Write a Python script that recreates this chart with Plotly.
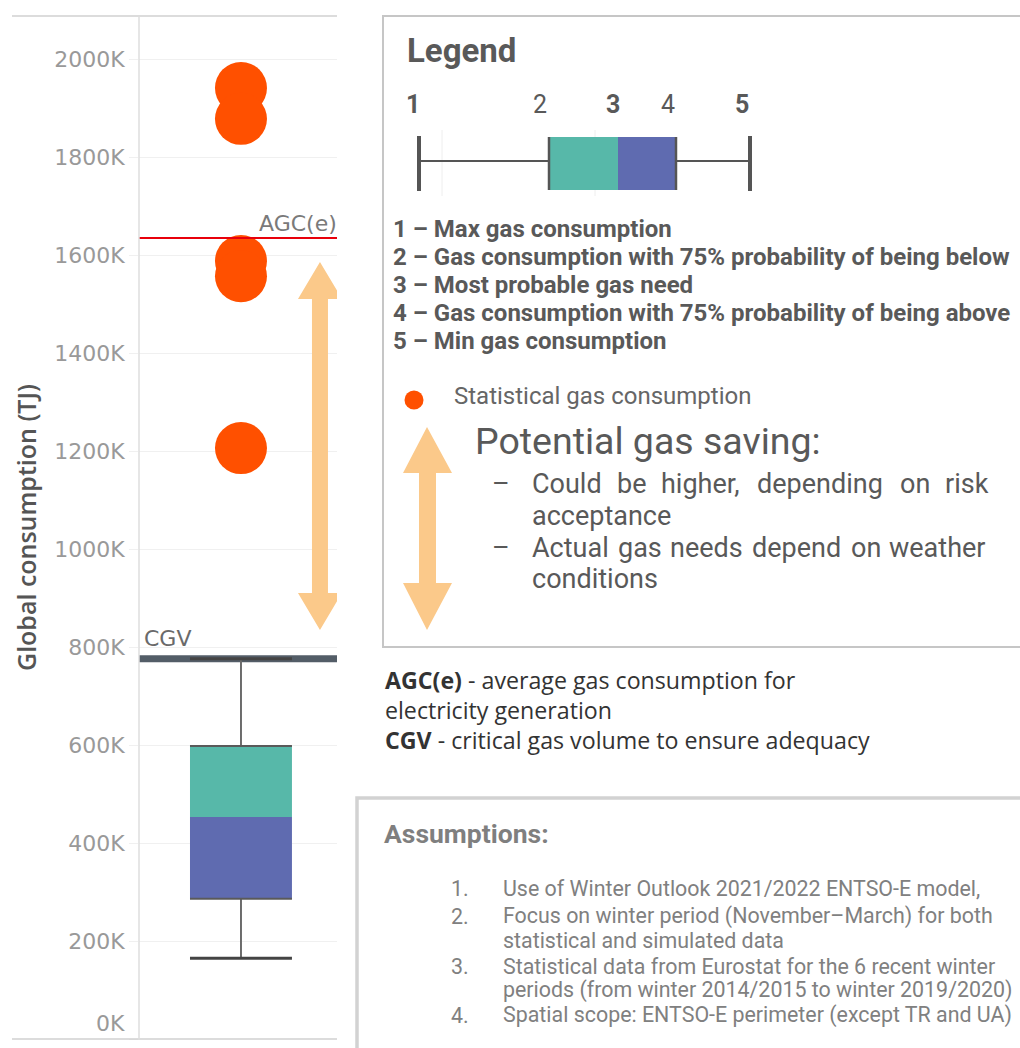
import plotly.graph_objects as go

# ---------------- data (values in thousand TJ) ----------------
Y_TICKS = [0, 200, 400, 600, 800, 1000, 1200, 1400, 1600, 1800, 2000]
Y_TICK_LABELS = ["0K", "200K", "400K", "600K", "800K", "1000K", "1200K",
                 "1400K", "1600K", "1800K", "2000K"]
STAT_POINTS = [1941, 1878, 1588, 1557, 1206]      # statistical gas consumption
BOX_MIN = [165]
BOX_Q1 = [286]
BOX_MEDIAN = [453]
BOX_Q3 = [598]
BOX_MAX = [776]
AGC_E = 1635            # average gas consumption for electricity generation
CGV = 776               # critical gas volume
SAVING_RANGE = [835, 1586]   # potential gas saving arrow (bottom, top)
Y_RANGE = [0, 2090]

# ---------------- figure geometry / style ----------------
W, H = 1020, 1048
PLOT_L, PLOT_R, PLOT_T, PLOT_B = 139, 337, 15, 1039
PX_PER_UNIT = (PLOT_B - PLOT_T) / (Y_RANGE[1] - Y_RANGE[0])
BOX_X, BOX_W = 0.515, 0.515
ARROW_X = 0.914

ORANGE = "#FF5000"
TEAL = "#57B8A9"
BLUE = "#5F6BB0"
ARROW_C = "#FBC98A"
TXT = "#595959"
AXFONT = "DejaVu Sans"


def P(x, y):
    return x / W, 1 - y / H


fig = go.Figure()

# box body as two stacked segments
fig.add_trace(go.Bar(x=[BOX_X], y=[BOX_MEDIAN[0] - BOX_Q1[0]], base=BOX_Q1, width=BOX_W,
                     marker=dict(color=BLUE, line=dict(width=0)), hoverinfo="skip"))
fig.add_trace(go.Bar(x=[BOX_X], y=[BOX_Q3[0] - BOX_MEDIAN[0]], base=BOX_MEDIAN, width=BOX_W,
                     marker=dict(color=TEAL, line=dict(width=0)), hoverinfo="skip"))
# whiskers
fig.add_trace(go.Scatter(x=[BOX_X, BOX_X, None, BOX_X, BOX_X],
                         y=[BOX_Q3[0], BOX_MAX[0], None, BOX_MIN[0], BOX_Q1[0]],
                         mode="lines", line=dict(color="#6b6b6b", width=2), hoverinfo="skip"))
# box edges
xl, xr = BOX_X - BOX_W / 2, BOX_X + BOX_W / 2
fig.add_trace(go.Scatter(x=[xl, xr, None, xl, xr],
                         y=[BOX_Q3[0], BOX_Q3[0], None, BOX_Q1[0], BOX_Q1[0]],
                         mode="lines", line=dict(color="#5a5a5a", width=2), hoverinfo="skip"))
# caps
fig.add_trace(go.Scatter(x=[xl, xr, None, xl, xr],
                         y=[BOX_MAX[0], BOX_MAX[0], None, BOX_MIN[0], BOX_MIN[0]],
                         mode="lines", line=dict(color="#444444", width=3), hoverinfo="skip"))
# statistical points
fig.add_trace(go.Scatter(x=[BOX_X] * len(STAT_POINTS), y=STAT_POINTS, mode="markers",
                         marker=dict(color=ORANGE, size=52, line=dict(width=0)),
                         hoverinfo="y"))

shapes = []
# CGV thick line
shapes.append(dict(type="line", xref="x domain", yref="y", x0=0, x1=1, y0=CGV, y1=CGV,
                   line=dict(color="#535d67", width=7), layer="below"))
# AGC(e) line
shapes.append(dict(type="line", xref="x domain", yref="y", x0=0, x1=1, y0=AGC_E, y1=AGC_E,
                   line=dict(color="#E8000B", width=2), layer="above"))
# big saving arrow (x in pixels around ARROW_X, y in data units)
hh = 37 / PX_PER_UNIT
lo, hi = SAVING_RANGE
hw, sw = 22, 8
path = (f"M 0,{hi} L {hw},{hi - hh} L {sw},{hi - hh} L {sw},{lo + hh} L {hw},{lo + hh} "
        f"L 0,{lo} L {-hw},{lo + hh} L {-sw},{lo + hh} L {-sw},{hi - hh} L {-hw},{hi - hh} Z")
shapes.append(dict(type="path", xref="x", yref="y", xsizemode="pixel", xanchor=ARROW_X,
                   path=path, fillcolor=ARROW_C, line=dict(width=0), layer="above"))

# chart frame lines
for yy in (PLOT_T + 1, PLOT_B):
    x0, y0 = P(12, yy)
    x1, _ = P(PLOT_R, yy)
    shapes.append(dict(type="line", xref="paper", yref="paper", x0=x0, x1=x1, y0=y0, y1=y0,
                       line=dict(color="#d0d0d0", width=1.5)))
x0, y0 = P(PLOT_L, PLOT_T + 1)
_, y1 = P(PLOT_L, PLOT_B)
shapes.append(dict(type="line", xref="paper", yref="paper", x0=x0, x1=x0, y0=y0, y1=y1,
                   line=dict(color="#dedede", width=1.5)))

# legend box
a = P(383, 16); b = P(1040, 647)
shapes.append(dict(type="rect", xref="paper", yref="paper", x0=a[0], y0=a[1], x1=b[0], y1=b[1],
                   line=dict(color="#c6c6c6", width=2), fillcolor="rgba(0,0,0,0)"))
# assumptions box
a = P(357, 798); b = P(1040, 1070)
shapes.append(dict(type="rect", xref="paper", yref="paper", x0=a[0], y0=a[1], x1=b[0], y1=b[1],
                   line=dict(color="#d2d2d2", width=3.5), fillcolor="rgba(0,0,0,0)"))


def pline(x0p, y0p, x1p, y1p, color, width):
    a = P(x0p, y0p); b = P(x1p, y1p)
    return dict(type="line", xref="paper", yref="paper", x0=a[0], y0=a[1], x1=b[0], y1=b[1],
                line=dict(color=color, width=width))


def prect(x0p, y0p, x1p, y1p, color):
    a = P(x0p, y0p); b = P(x1p, y1p)
    return dict(type="rect", xref="paper", yref="paper", x0=a[0], y0=a[1], x1=b[0], y1=b[1],
                fillcolor=color, line=dict(width=0))


# legend mini box plot
shapes.append(pline(442, 130, 442, 196, "#eeeeee", 1))
shapes.append(pline(595, 130, 595, 196, "#eeeeee", 1))
shapes.append(prect(549, 137, 618, 190, TEAL))
shapes.append(prect(618, 137, 676, 190, BLUE))
shapes.append(pline(419, 161, 549, 161, "#555555", 2))
shapes.append(pline(676, 161, 750, 161, "#555555", 2))
shapes.append(pline(549, 137, 549, 190, "#555555", 2.5))
shapes.append(pline(676, 137, 676, 190, "#555555", 2.5))
shapes.append(pline(419, 136, 419, 191, "#555555", 4))
shapes.append(pline(750, 136, 750, 191, "#555555", 4))
# legend dot
a = P(404.5, 390.5); b = P(423.5, 409.5)
shapes.append(dict(type="circle", xref="paper", yref="paper", x0=a[0], y0=a[1], x1=b[0], y1=b[1],
                   fillcolor=ORANGE, line=dict(width=0)))
# legend arrow
pts = [(427, 427), (452, 473), (436, 473), (436, 583), (452, 583), (427, 630),
       (403, 583), (419, 583), (419, 473), (403, 473)]
pp = [P(*q) for q in pts]
lpath = "M " + " L ".join(f"{x},{y}" for x, y in pp) + " Z"
shapes.append(dict(type="path", xref="paper", yref="paper", path=lpath,
                   fillcolor=ARROW_C, line=dict(width=0)))

annotations = []


def text(x, y, s, size, color=TXT, family="Roboto", anchor="left", weight=None, angle=0):
    px, py = P(x, y)
    f = dict(size=size, color=color, family=family)
    if weight:
        f["weight"] = weight
    annotations.append(dict(x=px, y=py, xref="paper", yref="paper", text=s, showarrow=False,
                            xanchor=anchor, yanchor="middle", font=f, textangle=angle,
                            align="left"))


# approximate Roboto advance widths (em) for justified lines
CW = dict(a=.543, b=.561, c=.523, d=.564, e=.530, g=.561, h=.551, i=.243, k=.507, l=.243,
          n=.552, o=.570, p=.561, r=.338, s=.516, t=.327, u=.551, w=.751, C=.652, A=.653)
CW[","] = .196


def justified(line, x0, x1, y, size, scale):
    words = line.split(" ")
    ws = [sum(CW.get(ch, .55) for ch in w) * size * scale for w in words]
    gap = (x1 - x0 - sum(ws)) / (len(words) - 1)
    pos = x0
    for i, w in enumerate(words):
        text(pos, y, w, size)
        pos += ws[i] + gap


# axis title
text(26, 528, "Global consumption (TJ)", 25, color="#555555", family="Open Sans",
     anchor="center", weight=600, angle=-90)
# 0K label (Tableau lifts the bottom label)
annotations.append(dict(x=(PLOT_L - 12) / W, y=0, xref="paper", yref="y", text=Y_TICK_LABELS[0],
                        showarrow=False, xanchor="right", yanchor="middle", yshift=16,
                        font=dict(size=22, color="#999999", family=AXFONT)))
# line labels
annotations.append(dict(x=1, y=AGC_E, xref="x domain", yref="y", text="AGC(e)", showarrow=False,
                        xanchor="right", yanchor="bottom", yshift=0, xshift=2,
                        font=dict(size=22, color="#7a7a7a", family=AXFONT)))
annotations.append(dict(x=0, y=CGV, xref="x domain", yref="y", text="CGV", showarrow=False,
                        xanchor="left", yanchor="bottom", xshift=3, yshift=6,
                        font=dict(size=22, color="#6a6a6a", family=AXFONT)))

# legend
text(405, 50, "<b>Legend</b>", 33)
for xx, s in [(413, "<b>1</b>"), (540, "2"), (613, "<b>3</b>"), (668, "4"), (742, "<b>5</b>")]:
    text(xx, 105, s, 25, anchor="center")
LEGEND_ITEMS = ["1 – Max gas consumption",
                "2 – Gas consumption with 75% probability of being below",
                "3 – Most probable gas need",
                "4 – Gas consumption with 75% probability of being above",
                "5 – Min gas consumption"]
for i, s in enumerate(LEGEND_ITEMS):
    text(391, 229 + 28 * i, f"<b>{s}</b>", 24)
text(452, 396, "Statistical gas consumption", 24, color="#666666")
text(473, 441, "Potential gas saving:", 37.5)
text(490, 484, "–", 27)
text(490, 548, "–", 27)
justified("Could be higher, depending on risk", 530, 987, 484, 27, 1.02)
text(530, 516, "acceptance", 27)
justified("Actual gas needs depend on weather", 530, 987, 548, 27, 1.04)
text(530, 579, "conditions", 27)

# definitions
text(383, 710, "<b>AGC(e)</b> - average gas consumption for<br>electricity generation<br>"
     "<b>CGV</b> - critical gas volume to ensure adequacy", 23.2, color="#333333",
     family="Open Sans")

# assumptions
text(382, 833, "<b>Assumptions:</b>", 26.5, color="#7f7f7f")
ASSUMPTIONS = [("1.", "Use of Winter Outlook 2021/2022 ENTSO-E model,", 888),
               ("2.", "Focus on winter period (November–March) for both", 916),
               ("", "statistical and simulated data", 940),
               ("3.", "Statistical data from Eurostat for the 6 recent winter", 966),
               ("", "periods (from winter 2014/2015 to winter 2019/2020)", 990),
               ("4.", "Spatial scope: ENTSO-E perimeter (except TR and UA)", 1015)]
for num, s, yy in ASSUMPTIONS:
    if num:
        text(471, yy, num, 21.4, color="#808080", anchor="right")
    text(501, yy, s, 21.4, color="#808080")

fig.update_layout(
    width=W, height=H, margin=dict(l=0, r=0, t=0, b=0),
    paper_bgcolor="white", plot_bgcolor="white", showlegend=False, barmode="overlay",
    shapes=shapes, annotations=annotations,
    xaxis=dict(domain=[PLOT_L / W, PLOT_R / W], range=[0, 1], visible=False, fixedrange=True),
    yaxis=dict(domain=[1 - PLOT_B / H, 1 - PLOT_T / H], range=Y_RANGE,
               tickvals=Y_TICKS, ticktext=[""] + Y_TICK_LABELS[1:],
               showgrid=True, gridcolor="#f0f0f0", gridwidth=1,
               ticks="outside", ticklen=9, tickcolor="#f0f0f0",
               zeroline=False, showline=False,
               tickfont=dict(size=22, color="#999999", family=AXFONT)),
)

fig.write_html("out.html", config={"displayModeBar": False},
               post_script="document.body.style.margin='0px';"
                           "document.body.style.overflow='hidden';")
